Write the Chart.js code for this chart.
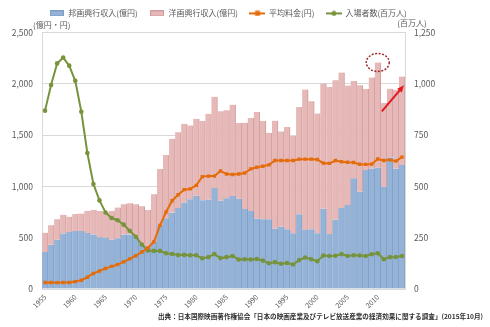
<!DOCTYPE html>
<html lang="ja">
<head>
<meta charset="utf-8">
<title>映画興行収入・入場者数の推移</title>
<script src="https://cdn.jsdelivr.net/npm/chart.js@4.4.1/dist/chart.umd.min.js"></script>
<style>
    html, body { margin: 0; padding: 0; background: #fff; }
    #marco { width: 490px; height: 327px; position: relative; }
</style>
</head>
<body>
<div id="marco"><canvas id="grafica"></canvas></div>
<script>
// ==============================
// DATOS
// ==============================
const years = [
    1955, 1956, 1957, 1958, 1959, 1960, 1961, 1962, 1963, 1964,
    1965, 1966, 1967, 1968, 1969, 1970, 1971, 1972, 1973, 1974,
    1975, 1976, 1977, 1978, 1979, 1980, 1981, 1982, 1983, 1984,
    1985, 1986, 1987, 1988, 1989, 1990, 1991, 1992, 1993, 1994,
    1995, 1996, 1997, 1998, 1999, 2000, 2001, 2002, 2003, 2004,
    2005, 2006, 2007, 2008, 2009, 2010, 2011, 2012, 2013, 2014
];

// 邦画興行収入(億円)
const hogaShunyu = [
    360, 430, 480, 540, 555, 565, 565, 545, 530, 505,
    500, 480, 495, 530, 530, 510, 430, 400, 460, 620,
    690, 745, 790, 840, 875, 908, 865, 870, 985, 860,
    885, 905, 880, 780, 761, 686, 680, 680, 588, 608,
    582, 542, 728, 575, 582, 543, 782, 535, 677, 790,
    818, 1078, 947, 1159, 1173, 1182, 995, 1282, 1172, 1208
];

// 洋画興行収入(億円)
const yogaShunyu = [
    189, 190, 200, 184, 150, 165, 170, 216, 240, 256,
    245, 281, 299, 296, 306, 316, 376, 370, 463, 550,
    616, 718, 738, 770, 719, 751, 771, 838, 887, 871,
    856, 891, 737, 840, 905, 1039, 956, 842, 1052, 927,
    996, 948, 1046, 1368, 1247, 1166, 1220, 1433, 1356, 1319,
    1164, 948, 1037, 789, 887, 1025, 817, 670, 770, 862
];

// 平均料金(円)
const heikinRyokin = [
    63, 63, 62, 64, 64, 72, 85, 115, 151, 176,
    200, 220, 237, 264, 294, 324, 360, 400, 460, 620,
    750, 860, 918, 968, 975, 1010, 1095, 1100, 1100, 1150,
    1120, 1116, 1120, 1130, 1170, 1186, 1196, 1209, 1252, 1252,
    1252, 1252, 1265, 1265, 1265, 1262, 1226, 1224, 1252, 1240,
    1235, 1233, 1216, 1214, 1217, 1266, 1252, 1258, 1246, 1285
];

// 入場者数(百万人)
const nyujoshaSu = [
    868.9, 993.9, 1098.9, 1127.5, 1088.1, 1014.4, 863.4, 662.3, 511.1, 431.5,
    372.7, 345.8, 335.1, 313.4, 283.9, 254.8, 216.8, 187.4, 185.7, 185.7,
    174.0, 170.2, 165.2, 166.0, 164.3, 164.4, 149.5, 155.1, 170.0, 150.5,
    155.1, 160.8, 143.9, 144.8, 143.6, 146.0, 138.3, 125.6, 130.7, 123.0,
    127.0, 119.6, 140.7, 153.1, 144.8, 135.4, 163.3, 160.8, 162.3, 170.1,
    160.5, 164.6, 163.2, 160.5, 169.3, 174.4, 144.7, 155.2, 155.9, 161.1
];

const xTickYears = [1955, 1960, 1965, 1970, 1975, 1980, 1985, 1990, 1995, 2000, 2005, 2010];
const leftTicks = [0, 500, 1000, 1500, 2000, 2500];
const rightTicks = [0, 250, 500, 750, 1000, 1250];

const fuente = "'Noto Sans CJK JP', 'Noto Sans', sans-serif";
const textoFuente = '出典：日本国際映画著作権協会「日本の映画産業及びテレビ放送産業の経済効果に関する調査」(2015年10月)';

Chart.defaults.font.family = fuente;
Chart.defaults.color = '#595959';

// ==============================
// ICONOS DE LEYENDA
// ==============================
function iconoBarra(relleno, borde) {
    const c = document.createElement('canvas');
    c.width = 14;
    c.height = 6;
    const g = c.getContext('2d');
    g.fillStyle = relleno;
    g.fillRect(0, 0, 14, 6);
    g.strokeStyle = borde;
    g.strokeRect(0.5, 0.5, 13, 5);
    return c;
}

function iconoLinea(color, forma) {
    const c = document.createElement('canvas');
    c.width = 16;
    c.height = 6;
    const g = c.getContext('2d');
    g.strokeStyle = color;
    g.lineWidth = 2;
    g.beginPath();
    g.moveTo(0, 3);
    g.lineTo(16, 3);
    g.stroke();
    g.fillStyle = color;
    if (forma === 'rect') {
        g.fillRect(5.5, 0.5, 5, 5);
    } else {
        g.beginPath();
        g.arc(8, 3, 2.5, 0, Math.PI * 2);
        g.fill();
    }
    return c;
}

const iconos = [
    iconoBarra('#95b3d7', '#7f9dc6'),
    iconoBarra('#e6b9b8', '#cf9d9c'),
    iconoLinea('#e46c0a', 'rect'),
    iconoLinea('#77933c', 'circle')
];

// ==============================
// PLUGINS
// ==============================
const moverLeyenda = {
    id: 'moverLeyenda',
    afterLayout(chart) {
        const lg = chart.legend;
        lg.left -= 17;
        lg.right -= 17;
        lg.top -= 5;
        lg.bottom -= 5;
    }
};

const textosExtra = {
    id: 'textosExtra',
    afterDraw(chart) {
        const { ctx, chartArea } = chart;
        ctx.save();
        ctx.font = '8px ' + fuente;
        ctx.fillStyle = '#595959';
        ctx.textBaseline = 'middle';
        ctx.textAlign = 'left';
        ctx.fillText('(億円・円)', chartArea.left - 9, chartArea.top - 7);
        ctx.textAlign = 'center';
        ctx.fillText('(百万人)', chartArea.right + 7, chartArea.top - 9);
        ctx.font = 'bold 6.6px ' + fuente;
        ctx.fillStyle = '#303030';
        ctx.textAlign = 'right';
        ctx.fillText(textoFuente, chart.width - 7, chart.height - 11);
        ctx.restore();
    }
};

// circulo punteado en 2010 y flecha roja
const marcas = {
    id: 'marcas',
    afterDatasetsDraw(chart) {
        const { ctx, scales: { x, y } } = chart;
        const i2010 = years.indexOf(2010);
        const cx = x.getPixelForValue(i2010);
        const cy = y.getPixelForValue(hogaShunyu[i2010] + yogaShunyu[i2010]);

        ctx.save();
        ctx.strokeStyle = '#a3282b';
        ctx.lineWidth = 1.5;
        ctx.setLineDash([2, 1.5]);
        ctx.beginPath();
        ctx.ellipse(cx, cy, 11.5, 9, 0, 0, Math.PI * 2);
        ctx.stroke();

        const x0 = x.getPixelForValue(years.indexOf(2011)) - 2;
        const y0 = y.getPixelForValue(1730);
        const x1 = x.getPixelForValue(years.indexOf(2014)) + 2;
        const y1 = y.getPixelForValue(1985);
        const ang = Math.atan2(y1 - y0, x1 - x0);

        ctx.setLineDash([]);
        ctx.strokeStyle = '#e3191c';
        ctx.fillStyle = '#e3191c';
        ctx.lineWidth = 2;
        ctx.beginPath();
        ctx.moveTo(x0, y0);
        ctx.lineTo(x1 - 4 * Math.cos(ang), y1 - 4 * Math.sin(ang));
        ctx.stroke();
        ctx.beginPath();
        ctx.moveTo(x1, y1);
        ctx.lineTo(x1 - 7 * Math.cos(ang) + 3 * Math.sin(ang), y1 - 7 * Math.sin(ang) - 3 * Math.cos(ang));
        ctx.lineTo(x1 - 7 * Math.cos(ang) - 3 * Math.sin(ang), y1 - 7 * Math.sin(ang) + 3 * Math.cos(ang));
        ctx.closePath();
        ctx.fill();
        ctx.restore();
    }
};

// ==============================
// GRAFICA
// ==============================
new Chart(document.getElementById('grafica'), {
    data: {
        labels: years,
        datasets: [
            {
                type: 'bar',
                label: '邦画興行収入(億円)',
                data: hogaShunyu,
                backgroundColor: '#95b3d7',
                borderColor: '#7f9dc6',
                borderWidth: { right: 1 },
                yAxisID: 'y',
                stack: 'shunyu',
                order: 2,
                barPercentage: 1,
                categoryPercentage: 1
            },
            {
                type: 'bar',
                label: '洋画興行収入(億円)',
                data: yogaShunyu,
                backgroundColor: '#e6b9b8',
                borderColor: '#cf9d9c',
                borderWidth: { right: 1 },
                yAxisID: 'y',
                stack: 'shunyu',
                order: 3,
                barPercentage: 1,
                categoryPercentage: 1
            },
            {
                type: 'line',
                label: '平均料金(円)',
                data: heikinRyokin,
                borderColor: '#e46c0a',
                backgroundColor: '#e46c0a',
                borderWidth: 2,
                pointStyle: 'rect',
                pointRadius: 2.4,
                pointBorderWidth: 0,
                yAxisID: 'y',
                stack: 'ryokin',
                order: 0
            },
            {
                type: 'line',
                label: '入場者数(百万人)',
                data: nyujoshaSu,
                borderColor: '#77933c',
                backgroundColor: '#77933c',
                borderWidth: 2,
                pointStyle: 'circle',
                pointRadius: 2.3,
                pointBorderWidth: 0,
                yAxisID: 'y1',
                order: 1
            }
        ]
    },
    options: {
        responsive: true,
        maintainAspectRatio: false,
        animation: false,
        devicePixelRatio: 1,
        layout: { padding: { top: 2.4, left: 0, right: 0, bottom: 0 } },
        plugins: {
            tooltip: { enabled: false },
            legend: {
                position: 'top',
                labels: {
                    usePointStyle: true,
                    pointStyleWidth: 15,
                    padding: 12,
                    color: '#595959',
                    font: { size: 8, family: fuente },
                    generateLabels(chart) {
                        const items = Chart.defaults.plugins.legend.labels.generateLabels(chart);
                        items.forEach(it => { it.pointStyle = iconos[it.datasetIndex]; });
                        return items;
                    },
                    sort: (a, b) => a.datasetIndex - b.datasetIndex
                }
            }
        },
        scales: {
            x: {
                stacked: true,
                grid: { display: false, drawTicks: false },
                border: { display: true, color: '#d9d9d9' },
                ticks: {
                    autoSkip: false,
                    maxRotation: 45,
                    minRotation: 45,
                    padding: 4,
                    font: { size: 7 },
                    color: '#595959',
                    callback(val, idx) {
                        return xTickYears.includes(years[idx]) ? String(years[idx]) : '';
                    }
                },
                afterFit(scale) { scale.height = 38; }
            },
            y: {
                stacked: true,
                position: 'left',
                min: 0,
                max: 2500,
                afterBuildTicks(scale) { scale.ticks = leftTicks.map(v => ({ value: v })); },
                grid: { color: '#d9d9d9', drawTicks: false },
                border: { display: true, color: '#d9d9d9' },
                ticks: {
                    padding: 9,
                    font: { size: 8.5 },
                    color: '#595959',
                    callback: v => v.toLocaleString('en-US')
                },
                afterFit(scale) { scale.width = 42; }
            },
            y1: {
                position: 'right',
                min: 0,
                max: 1250,
                afterBuildTicks(scale) { scale.ticks = rightTicks.map(v => ({ value: v })); },
                grid: { drawOnChartArea: false, drawTicks: false },
                border: { display: true, color: '#d9d9d9' },
                ticks: {
                    padding: 9,
                    font: { size: 8.5 },
                    color: '#595959',
                    callback: v => v.toLocaleString('en-US')
                },
                afterFit(scale) { scale.width = 85; }
            }
        }
    },
    plugins: [moverLeyenda, textosExtra, marcas]
});
</script>
</body>
</html>
